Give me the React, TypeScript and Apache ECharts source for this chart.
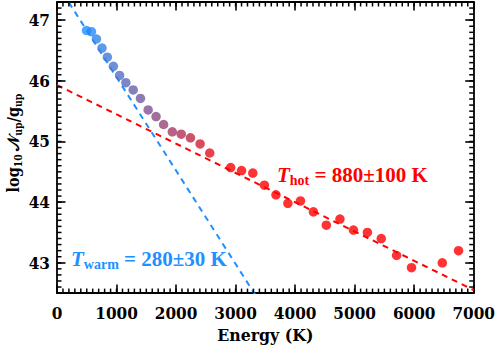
import React, { useEffect, useRef } from "react";
import * as echarts from "echarts";

const energy = [496, 579, 663, 756, 846, 947, 1052, 1157, 1280, 1402, 1531, 1664, 1791, 1937, 2087, 2242, 2404, 2566, 2917, 3100, 3289, 3484, 3678, 3878, 4090, 4307, 4524, 4753, 4980, 5214, 5447, 5705, 5955, 6472, 6745];
const logN = [46.83, 46.81, 46.69, 46.54, 46.39, 46.24, 46.09, 45.97, 45.85, 45.71, 45.52, 45.41, 45.28, 45.16, 45.12, 45.06, 44.96, 44.81, 44.57, 44.52, 44.48, 44.28, 44.12, 43.98, 44.02, 43.84, 43.62, 43.72, 43.54, 43.50, 43.40, 43.12, 42.92, 43.00, 43.20];
const hotFit = [[0, 45.93], [7000, 42.55]];
const warmFit = [[0, 47.6], [3500, 42.21]];
const xRange = [0, 7000];
const xMajor = 1000;
const xMinor = 100;
const yRange = [42.5, 47.3];
const yMinor = 0.1;
const hotLabel = "880±100 K";
const warmLabel = "280±30 K";

const BLUE = [30, 144, 255];
const RED = [255, 0, 0];
function pointColor(x: number) {
  const t = Math.max(0, Math.min(1, (x - 500) / (2900 - 500)));
  const c = BLUE.map((b, i) => Math.round(b + (RED[i] - b) * t));
  return `rgb(${c[0]},${c[1]},${c[2]})`;
}

// minor tick positions (axis decoration, not data)
const xMinorTicks: number[] = [];
for (let i = 1; xRange[0] + i * xMinor < xRange[1]; i++) xMinorTicks.push(xRange[0] + i * xMinor);
const yMinorTicks: number[] = [];
for (let i = 1; yRange[0] + i * yMinor < yRange[1] - 1e-9; i++) yMinorTicks.push(Math.round((yRange[0] + i * yMinor) * 10) / 10);

const TICK_FONT = "'DejaVu Serif Condensed', 'DejaVu Serif', serif";
const ANN_FONT = "'Liberation Serif', 'Times New Roman', serif";
const MINOR_LEN = 4.5;

export default function App() {
  const ref = useRef<HTMLDivElement>(null);
  useEffect(() => {
    const chart = echarts.init(ref.current!, null, { renderer: "svg" });
    const major = {
      axisLine: { show: true, onZero: false, lineStyle: { color: "#000", width: 1.8 } },
      axisTick: { show: true, inside: true, length: 8.5, lineStyle: { color: "#000", width: 1.6 } },
      splitLine: { show: false },
    };
    const yFmt = (v: number) => (Math.abs(v - Math.round(v)) < 1e-6 ? String(Math.round(v)) : "");
    const xAxisBase = { type: "value", min: xRange[0], max: xRange[1] };
    const yAxisBase = { type: "value", min: yRange[0], max: yRange[1] };
    const xMinorData = xMinorTicks.map((v) => [v, yRange[0]]);
    const yMinorData = yMinorTicks.map((v) => [xRange[0], v]);
    const tick = () => ({ stroke: "#000", lineWidth: 1.5 });
    chart.setOption({
      animation: false,
      grid: { left: 57, right: 22, top: 2, bottom: 53, containLabel: false },
      xAxis: [
        {
          ...xAxisBase, interval: xMajor, position: "bottom", ...major,
          axisLabel: { color: "#000", fontFamily: TICK_FONT, fontWeight: "bold", fontSize: 17, margin: 11, formatter: (v: number) => String(v) },
          name: "Energy (K)", nameLocation: "middle", nameGap: 32,
          nameTextStyle: { color: "#000", fontFamily: TICK_FONT, fontWeight: "bold", fontSize: 17.5 },
        },
        { ...xAxisBase, interval: xMajor, position: "top", ...major, axisLabel: { show: false } },
      ],
      yAxis: [
        {
          ...yAxisBase, position: "left", ...major,
          axisLabel: { color: "#000", fontFamily: TICK_FONT, fontWeight: "bold", fontSize: 17, margin: 7, formatter: yFmt },
        },
        { ...yAxisBase, position: "right", ...major, axisLabel: { show: false } },
      ],
      series: [
        {
          type: "custom", coordinateSystem: "cartesian2d", silent: true, clip: false, z: 5,
          encode: { x: 0, y: 1 },
          data: xMinorData,
          renderItem: (params: any, api: any) => {
            const cs = params.coordSys;
            const x = api.coord([api.value(0), api.value(1)])[0];
            const top = cs.y, bottom = cs.y + cs.height;
            return {
              type: "group",
              children: [
                { type: "line", shape: { x1: x, y1: bottom, x2: x, y2: bottom - MINOR_LEN }, style: tick() },
                { type: "line", shape: { x1: x, y1: top, x2: x, y2: top + MINOR_LEN }, style: tick() },
              ],
            };
          },
        },
        {
          type: "custom", coordinateSystem: "cartesian2d", silent: true, clip: false, z: 5,
          encode: { x: 0, y: 1 },
          data: yMinorData,
          renderItem: (params: any, api: any) => {
            const cs = params.coordSys;
            const y = api.coord([api.value(0), api.value(1)])[1];
            const left = cs.x, right = cs.x + cs.width;
            return {
              type: "group",
              children: [
                { type: "line", shape: { x1: left, y1: y, x2: left + MINOR_LEN, y2: y }, style: tick() },
                { type: "line", shape: { x1: right, y1: y, x2: right - MINOR_LEN, y2: y }, style: tick() },
              ],
            };
          },
        },
        {
          type: "line", data: hotFit, symbol: "none", clip: true,
          lineStyle: { color: "#ff0000", width: 2, type: [6, 5] }, z: 2,
        },
        {
          type: "line", data: warmFit, symbol: "none", clip: true,
          lineStyle: { color: "#1e90ff", width: 2, type: [6, 5] }, z: 2,
        },
        {
          type: "scatter", symbol: "circle", symbolSize: 9.5, z: 3,
          data: energy.map((x, i) => ({ value: [x, logN[i]], itemStyle: { color: pointColor(x) } })),
        },
      ],
      graphic: [
        {
          type: "text", x: 13, y: 143, rotation: Math.PI / 2,
          style: {
            text: "{b|log}{s|10} {n|𝒩}{s|up}{b|/}{b|g}{s|up}",
            align: "center", verticalAlign: "middle",
            rich: {
              b: { fontFamily: TICK_FONT, fontWeight: "bold", fontSize: 16, lineHeight: 21, fill: "#000", verticalAlign: "middle" },
              n: { fontFamily: "'DejaVu Serif', serif", fontWeight: "bold", fontSize: 16, lineHeight: 21, fill: "#000", verticalAlign: "middle" },
              s: { fontFamily: TICK_FONT, fontWeight: "bold", fontSize: 10.5, lineHeight: 12, fill: "#000", verticalAlign: "bottom" },
            },
          },
        },
        {
          type: "text", x: 277, y: 175,
          style: {
            text: `{t|T}{s|hot}{b| = ${hotLabel}}`,
            align: "left", verticalAlign: "middle",
            rich: {
              t: { fontFamily: ANN_FONT, fontWeight: "bold", fontStyle: "italic", fontSize: 21, lineHeight: 24, fill: "#ff0000", verticalAlign: "middle" },
              s: { fontFamily: ANN_FONT, fontWeight: "bold", fontSize: 14, lineHeight: 14, fill: "#ff0000", verticalAlign: "bottom" },
              b: { fontFamily: ANN_FONT, fontWeight: "bold", fontSize: 21, lineHeight: 24, fill: "#ff0000", verticalAlign: "middle" },
            },
          },
        },
        {
          type: "text", x: 71, y: 259,
          style: {
            text: `{t|T}{s|warm}{b| = ${warmLabel}}`,
            align: "left", verticalAlign: "middle",
            rich: {
              t: { fontFamily: ANN_FONT, fontWeight: "bold", fontStyle: "italic", fontSize: 21, lineHeight: 24, fill: "#1e90ff", verticalAlign: "middle" },
              s: { fontFamily: ANN_FONT, fontWeight: "bold", fontSize: 14, lineHeight: 14, fill: "#1e90ff", verticalAlign: "bottom" },
              b: { fontFamily: ANN_FONT, fontWeight: "bold", fontSize: 21, lineHeight: 24, fill: "#1e90ff", verticalAlign: "middle" },
            },
          },
        },
      ],
    });
    return () => chart.dispose();
  }, []);
  return <div ref={ref} style={{ width: 498, height: 349, position: "absolute", left: 0, top: 0, background: "#fff" }} />;
}
